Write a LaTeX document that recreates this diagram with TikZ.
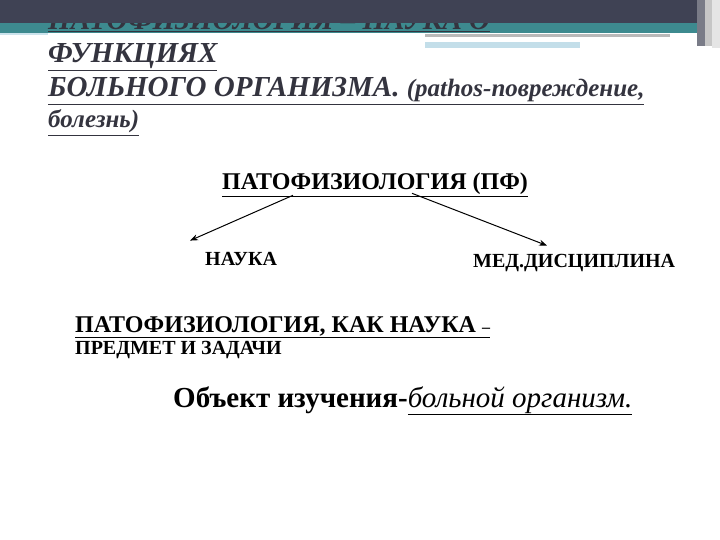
\documentclass[tikz,border=0pt]{standalone}
\usepackage{fontspec}
\setmainfont{Liberation Serif}
\usetikzlibrary{positioning,arrows.meta}
\definecolor{slate}{HTML}{3F4254}
\definecolor{bannerteal}{HTML}{3D8A8F}
\definecolor{headgrey}{HTML}{34343F}

\begin{document}
\begin{tikzpicture}[x=1pt,y=-1pt,
    txt/.style={inner sep=0pt,anchor=base west},
    head/.style={txt,text=headgrey,font=\bfseries\itshape\fontsize{#1}{#1}\selectfont},
    sub/.style={txt,font=\bfseries\fontsize{#1}{#1}\selectfont},
    link/.style={-{Stealth[length=8pt,width=6pt]},line width=1pt}]
    \useasboundingbox[fill=white] (0,0) rectangle (720,540);

    % banner
    \fill[bannerteal] (0,23) rectangle (720,33);
    \node[head=29] (hidden) at (48,30) {\underline{ПАТОФИЗИОЛОГИЯ – НАУКА О}};
    \fill[slate] (0,0) rectangle (697,23);
    \fill[slate!70] (697,0) rectangle (705,46);
    \fill[gray!45] (705,0) rectangle (712,46);
    \fill[gray!20] (712,0) rectangle (720,48);
    \fill[gray!50!cyan!30] (0,33) rectangle (48,35);
    \fill[gray!55] (425,34) rectangle (670,37);
    \fill[gray!50!cyan!35] (425,42) rectangle (580,48);

    % title
    \node[head=29] (funk) at (48,63) {\underline{ФУНКЦИЯХ}};
    \node[head=29] (bolnogo) at (48,97)
        {\underline{БОЛЬНОГО ОРГАНИЗМА. {\fontsize{25}{25}\selectfont(pathos-повреждение,}}};
    \node[head=25] (bolezn) at (48,128) {\underline{болезнь)}};

    % tree
    \node[sub=24] (pf) at (222,190) {\underline{ПАТОФИЗИОЛОГИЯ (ПФ)}};
    \node[sub=20] (nauka) at (205,265) {НАУКА};
    \node[sub=20] (med) at (473,267) {МЕД.ДИСЦИПЛИНА};
    \draw[link] ([xshift=71pt,yshift=2pt]pf.south west) -- ([xshift=-15pt,yshift=11pt]nauka.north west);
    \draw[link] ([xshift=190pt,yshift=4pt]pf.south west) -- ([xshift=74pt,yshift=8pt]med.north west);

    \node[sub=24] (kak) at (75,332) {\underline{ПАТОФИЗИОЛОГИЯ, КАК НАУКА \fontsize{16}{16}\selectfont –}};
    \node[sub=20] (predmet) at (75,354) {ПРЕДМЕТ И ЗАДАЧИ};

    \node[sub=29] (obj) at (173,407) {Объект изучения-\mdseries\itshape\underline{больной организм.}};
\end{tikzpicture}
\end{document}
